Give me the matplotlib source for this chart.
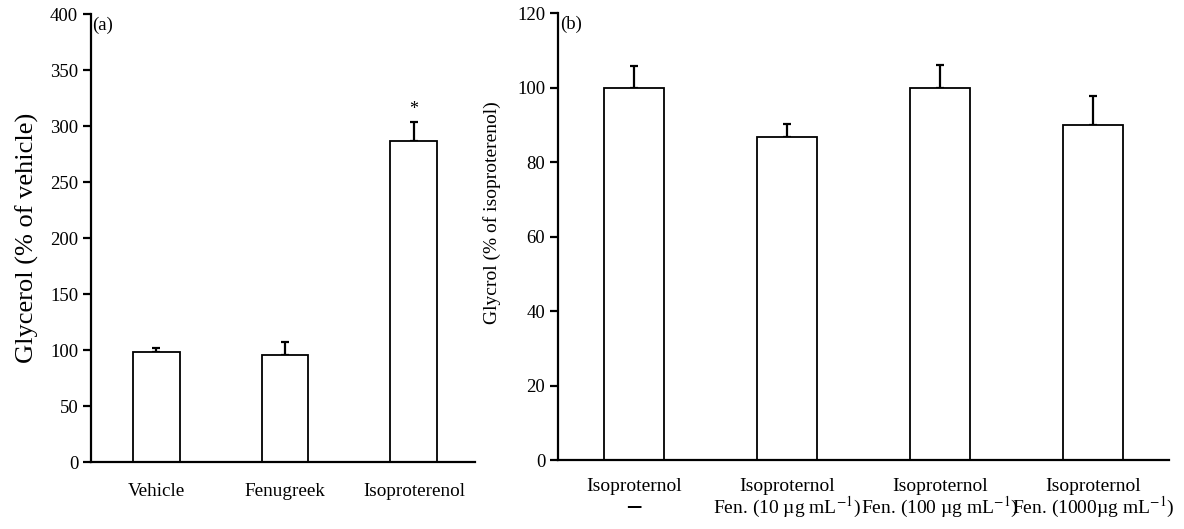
import matplotlib
matplotlib.use("Agg")
import matplotlib.pyplot as plt
import matplotlib.transforms as mtransforms
import numpy as np

plt.rcParams['font.family'] = ['Liberation Serif', 'DejaVu Serif']
plt.rcParams['mathtext.fontset'] = 'stix'

# Panel (a)
cats_a = ["Vehicle", "Fenugreek", "Isoproterenol"]
vals_a = [98.8, 95.6, 286.5]
err_a = [3.1, 12.2, 17.6]
sig_a = ["", "", "*"]
yticks_a = [0, 50, 100, 150, 200, 250, 300, 350, 400]

# Panel (b)
cats_b = ["Isoproternol", "Isoproternol", "Isoproternol", "Isoproternol"]
sub_b = ["\u2014",
         "Fen. (10 \u00b5g mL$^{-1}$)",
         "Fen. (100 \u00b5g mL$^{-1}$)",
         "Fen. (1000\u00b5g mL$^{-1}$)"]
vals_b = [99.8, 86.9, 99.9, 89.9]
err_b = [6.0, 3.3, 6.1, 7.9]
yticks_b = [0, 20, 40, 60, 80, 100, 120]

fig = plt.figure(figsize=(11.84, 5.29), dpi=100)
ax_a = fig.add_axes([0.0766, 0.1261, 0.3246, 0.847])
ax_b = fig.add_axes([0.471, 0.1304, 0.5163, 0.8445])

def style(ax):
    for s in ['top', 'right']:
        ax.spines[s].set_visible(False)
    for s in ['left', 'bottom']:
        ax.spines[s].set_linewidth(1.6)
    ax.tick_params(axis='y', direction='out', length=6, width=1.6, labelsize=13.5, pad=3)
    ax.tick_params(axis='x', length=0, labelsize=13.8, pad=15)

# (a)
xa = np.arange(len(cats_a))
ax_a.bar(xa, vals_a, width=0.363, color='white', edgecolor='black', linewidth=1.3, zorder=2)
ax_a.errorbar(xa, vals_a, yerr=[np.zeros(len(err_a)), err_a], fmt='none', ecolor='black',
              elinewidth=1.6, capsize=2.7, capthick=1.6, zorder=1)
for x, v, e, s in zip(xa, vals_a, err_a, sig_a):
    if s:
        ax_a.text(x, v + e + 3, s, ha='center', va='bottom', fontsize=13)
ax_a.set_xlim(-0.51, 2.475)
ax_a.set_ylim(0, 400)
ax_a.set_yticks(yticks_a)
ax_a.set_xticks(xa)
ax_a.set_xticklabels(cats_a)
ax_a.set_ylabel("Glycerol (% of vehicle)", fontsize=19, labelpad=8)
style(ax_a)
ax_a.text(0.005, 0.995, "(a)", transform=ax_a.transAxes, ha='left', va='top', fontsize=13.5)

# (b)
xb = np.arange(len(cats_b))
ax_b.bar(xb, vals_b, width=0.393, color='white', edgecolor='black', linewidth=1.3, zorder=2)
ax_b.errorbar(xb, vals_b, yerr=[np.zeros(len(err_b)), err_b], fmt='none', ecolor='black',
              elinewidth=1.6, capsize=2.7, capthick=1.6, zorder=1)
ax_b.set_xlim(-0.501, 3.497)
ax_b.set_ylim(0, 120)
ax_b.set_yticks(yticks_b)
ax_b.set_xticks(xb)
ax_b.set_xticklabels([])
style(ax_b)
trans = mtransforms.blended_transform_factory(ax_b.transData, ax_b.transAxes)
for x, l1, l2 in zip(xb, cats_b, sub_b):
    ax_b.text(x, -0.0694, l1, transform=trans, ha='center', va='baseline', fontsize=14)
    if l2 == "\u2014":
        ax_b.text(x, -0.100, l2, transform=trans, ha='center', va='center_baseline',
                  fontsize=11, fontweight='bold', family='DejaVu Sans')
    else:
        ax_b.text(x, -0.1186, l2, transform=trans, ha='center', va='baseline', fontsize=14)
ax_b.set_ylabel("Glycrol (% of isoproterenol)", fontsize=14)
ax_b.yaxis.set_label_coords(-0.093, 0.553)
ax_b.text(0.004, 0.995, "(b)", transform=ax_b.transAxes, ha='left', va='top', fontsize=13.5)

fig.savefig("out.png", dpi=100)
